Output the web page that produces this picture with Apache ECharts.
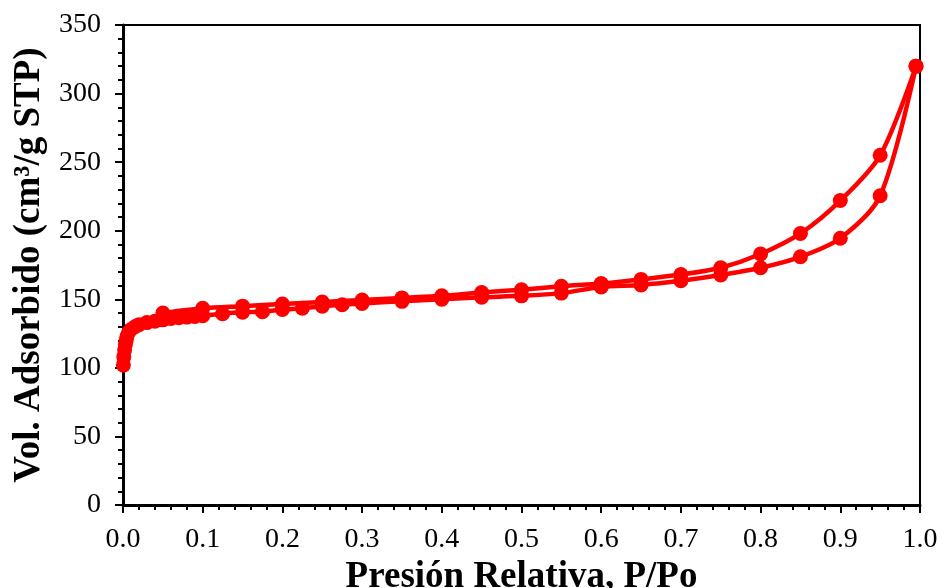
<!DOCTYPE html>
<html>
<head>
<meta charset="utf-8">
<script src="https://cdn.jsdelivr.net/npm/echarts@6/dist/echarts.min.js"></script>
<style>
  html, body { margin: 0; padding: 0; background: #fff; }
  #chart { width: 945px; height: 588px; }
</style>
</head>
<body>
<div id="chart"></div>
<script>
// adsorption branch (lower)
const adsP = [0.0005, 0.001, 0.002, 0.003, 0.004, 0.005, 0.007, 0.01, 0.015, 0.02, 0.03, 0.04, 0.05, 0.06, 0.07, 0.08, 0.09, 0.1, 0.125, 0.15, 0.175, 0.2, 0.225, 0.25, 0.275, 0.3, 0.35, 0.4, 0.45, 0.5, 0.55, 0.6, 0.65, 0.7, 0.75, 0.8, 0.85, 0.9, 0.95, 0.995]
const adsV = [102, 108, 113, 117, 120, 123, 126, 128, 130, 131.5, 133, 134, 135, 136, 136.5, 137, 137.5, 138, 139.5, 140.5, 141, 142.5, 143.5, 145, 146, 147, 148.5, 150, 151.5, 152.5, 154.5, 159, 160.5, 163.5, 167.7, 173, 181, 194.5, 225.5, 320]
// desorption branch (upper)
const desP = [0.995, 0.95, 0.9, 0.85, 0.8, 0.75, 0.7, 0.65, 0.6, 0.55, 0.5, 0.45, 0.4, 0.35, 0.3, 0.25, 0.2, 0.15, 0.1, 0.05]
const desV = [320, 255, 222, 198, 183, 173, 168, 164.5, 161.5, 159.5, 157, 155, 152.5, 151, 149.5, 148, 146.5, 145, 143.5, 140]

const font = 'Liberation Serif'
const pairs = (xs, ys) => xs.map((x, i) => [x, ys[i]])

const myChart = echarts.init(document.getElementById('chart'))

const lineSeries = (name, data) => ({
  name: name,
  type: 'line',
  data: data,
  smooth: 0.3,
  symbol: 'circle',
  symbolSize: 15,
  lineStyle: { color: '#ff0000', width: 4.5 },
  itemStyle: { color: '#ff0000' },
  animation: false
})

myChart.setOption({
  grid: {
    left: 123, right: 25, top: 25, bottom: 83,
    outerBoundsMode: 'none',
    containLabel: false,
    show: true, borderColor: '#000', borderWidth: 2
  },
  xAxis: {
    type: 'value',
    min: 0, max: 1, interval: 0.1,
    name: 'Presión Relativa, P/Po',
    nameLocation: 'middle',
    nameGap: 50,
    nameTextStyle: { fontFamily: font, fontSize: 37, fontWeight: 'bold', color: '#000' },
    axisLine: { show: true, lineStyle: { color: '#000', width: 3 } },
    axisTick: { show: true, length: 8, lineStyle: { color: '#000', width: 2 } },
    minorTick: { show: true, splitNumber: 5, length: 5, lineStyle: { color: '#000', width: 2 } },
    splitLine: { show: false },
    axisLabel: {
      fontFamily: font, fontSize: 28, color: '#000', margin: 21,
      formatter: v => v.toFixed(1)
    }
  },
  yAxis: {
    type: 'value',
    min: 0, max: 350, interval: 50,
    name: 'Vol. Adsorbido (cm³/g STP)',
    nameLocation: 'middle',
    nameGap: 74,
    nameTextStyle: { fontFamily: font, fontSize: 37, fontWeight: 'bold', color: '#000' },
    axisLine: { show: true, lineStyle: { color: '#000', width: 3 } },
    axisTick: { show: true, length: 8, lineStyle: { color: '#000', width: 2 } },
    minorTick: { show: true, splitNumber: 5, length: 5, lineStyle: { color: '#000', width: 2 } },
    splitLine: { show: false },
    axisLabel: { fontFamily: font, fontSize: 28, color: '#000', margin: 22 }
  },
  series: [
    lineSeries('Adsorción', pairs(adsP, adsV)),
    lineSeries('Desorción', pairs(desP, desV))
  ]
})
</script>
</body>
</html>
